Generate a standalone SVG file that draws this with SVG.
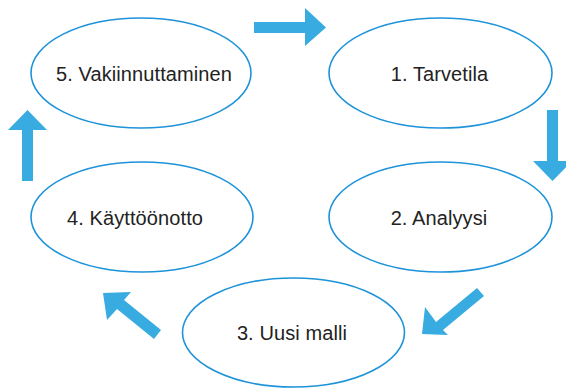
<svg xmlns="http://www.w3.org/2000/svg" width="566" height="388" viewBox="0 0 566 388">
  <style>
    .stage ellipse { fill: #ffffff; stroke: #1e93d9; stroke-width: 1.6; }
    .stage text { font-family: "Liberation Sans", Arial, sans-serif; font-size: 20px; fill: #222222; text-anchor: middle; letter-spacing: 0.1px; }
    .arrow { fill: #38abe0; }
  </style>
  <rect width="566" height="388" fill="#ffffff"/>

  <g id="stage-1" class="stage">
    <ellipse cx="440.5" cy="73" rx="111.5" ry="55"/>
    <text x="439.5" y="81">1. Tarvetila</text>
  </g>
  <g id="stage-2" class="stage">
    <ellipse cx="440.5" cy="217" rx="111.5" ry="55"/>
    <text x="439" y="225">2. Analyysi</text>
  </g>
  <g id="stage-3" class="stage">
    <ellipse cx="293.5" cy="332.5" rx="111" ry="54.5"/>
    <text x="292" y="340">3. Uusi malli</text>
  </g>
  <g id="stage-4" class="stage">
    <ellipse cx="142" cy="217" rx="111" ry="55"/>
    <text x="135" y="225">4. Käyttöönotto</text>
  </g>
  <g id="stage-5" class="stage">
    <ellipse cx="141" cy="73" rx="110" ry="55"/>
    <text x="144" y="81">5. Vakiinnuttaminen</text>
  </g>

  <g id="connectors">
    <!-- 5 -> 1 -->
    <polygon class="arrow" points="254,22 305,22 305,8 326,27.5 305,46 305,33 254,33"/>
    <!-- 1 -> 2 -->
    <polygon class="arrow" points="547,110 558,110 558,161 572,161 552.5,181 533,161 547,161"/>
    <!-- 2 -> 3 -->
    <polygon class="arrow" points="477,288 484,296 443,330 448,335 422,334 425,307 436,322"/>
    <!-- 3 -> 4 -->
    <polygon class="arrow" points="161,330 154,339 117,309 107,320 103,293 131,292 124,300"/>
    <!-- 4 -> 5 -->
    <polygon class="arrow" points="22,181 22,130 8,130 27.5,110 47,130 33,130 33,181"/>
  </g>
</svg>
